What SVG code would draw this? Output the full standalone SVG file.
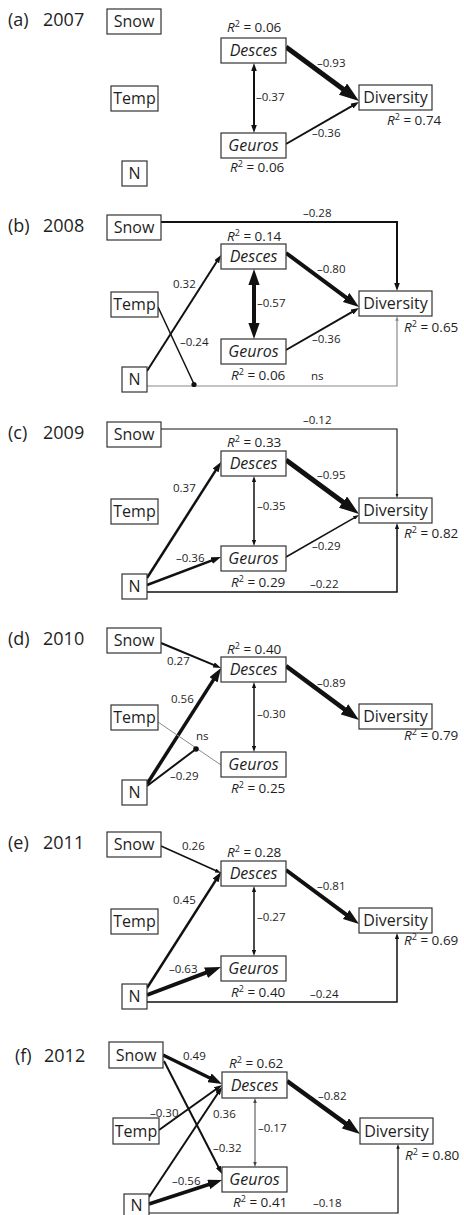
<svg xmlns="http://www.w3.org/2000/svg" width="464" height="1215" viewBox="0 0 464 1215">
<style>
text{font-family:'Open Sans','Liberation Sans',sans-serif;fill:#1e1e1e}
.box{fill:#fff;stroke:#333;stroke-width:1.2}
.nl{font-size:16px;text-anchor:middle}
.it{font-style:italic}
.yr{font-size:18px}
.c{font-size:11.5px}
.r2{font-size:13.5px}
.e{fill:none;stroke:#111;stroke-linejoin:miter}
.g{stroke:#8a8a8a}
</style>
<defs>
<marker id="ahk" viewBox="0 0 10 7" refX="4" refY="3.5" markerWidth="4" markerHeight="2.8" markerUnits="strokeWidth" orient="auto-start-reverse"><path d="M0,0 L10,3.5 L0,7 z" fill="#111"/></marker>
<marker id="ahg" viewBox="0 0 10 7" refX="4" refY="3.5" markerWidth="4" markerHeight="2.8" markerUnits="strokeWidth" orient="auto-start-reverse"><path d="M0,0 L10,3.5 L0,7 z" fill="#8a8a8a"/></marker>
<marker id="ahd" viewBox="0 0 10 7" refX="4" refY="3.5" markerWidth="5" markerHeight="3.5" markerUnits="strokeWidth" orient="auto-start-reverse"><path d="M0,0 L10,3.5 L0,7 z" fill="#444"/></marker>
</defs>

<!-- Panel (a) 2007 -->
<g id="panel-a" transform="translate(0,9)">
<text class="yr" x="8" y="17">(a)</text><text class="yr" x="43" y="17">2007</text>
<g id="connectors-a">
<path class="e" style="marker-end:url(#ahk)" stroke-width="5" d="M286,38 L349.35,84.86"/>
<path class="e" style="marker-end:url(#ahk)" stroke-width="2" d="M286,135 L354.84,95.4"/>
<path class="e" style="marker-start:url(#ahk);marker-end:url(#ahk)" stroke-width="2" d="M254,58.8 V119.2"/>
<text class="c" x="317" y="58">–0.93</text>
<text class="c" x="256" y="92">–0.37</text>
<text class="c" x="312" y="128">–0.36</text>
<text class="r2" x="227" y="23"><tspan class="it">R</tspan><tspan dy="-5" font-size="9">2</tspan><tspan dy="5"> = 0.06</tspan></text>
<text class="r2" x="387" y="116"><tspan class="it">R</tspan><tspan dy="-5" font-size="9">2</tspan><tspan dy="5"> = 0.74</tspan></text>
<text class="r2" x="230" y="163"><tspan class="it">R</tspan><tspan dy="-5" font-size="9">2</tspan><tspan dy="5"> = 0.06</tspan></text>
</g>
<g id="a-snow"><rect class="box" x="107" y="0" width="54" height="25"/><text class="nl" x="134" y="18">Snow</text></g>
<g id="a-desces"><rect class="box" x="221" y="29" width="65" height="25"/><text class="nl it" x="253.5" y="47">Desces</text></g>
<g id="a-temp"><rect class="box" x="111" y="77" width="47" height="25"/><text class="nl" x="134.5" y="95">Temp</text></g>
<g id="a-diversity"><rect class="box" x="359" y="76" width="73" height="25"/><text class="nl" x="395.5" y="94">Diversity</text></g>
<g id="a-geuros"><rect class="box" x="221" y="124" width="65" height="25"/><text class="nl it" x="253.5" y="142">Geuros</text></g>
<g id="a-n"><rect class="box" x="122" y="152" width="25" height="25"/><text class="nl" x="134.5" y="170">N</text></g>
</g>

<!-- Panel (b) 2008 -->
<g id="panel-b" transform="translate(0,215)">
<text class="yr" x="8" y="17">(b)</text><text class="yr" x="43" y="17">2008</text>
<g id="connectors-b">
<path class="e" style="marker-end:url(#ahk)" stroke-width="2" d="M161,7 H397 V71.2"/>
<path class="e g" style="marker-end:url(#ahg)" stroke-width="1.2" d="M147,171 H397 V103.9"/>
<path class="e" style="marker-end:url(#ahk)" stroke-width="4" d="M286,38 L351.28,86.29"/>
<path class="e" style="marker-end:url(#ahk)" stroke-width="2" d="M286,135 L354.84,95.4"/>
<path class="e" style="marker-start:url(#ahk);marker-end:url(#ahk)" stroke-width="4" d="M254,63.6 V114.4"/>
<path class="e" style="marker-end:url(#ahk)" stroke-width="2" d="M147,156 L218.42,44.05"/>
<path class="e" stroke-width="1.5" d="M158,92 L194,169"/>
<circle cx="194" cy="169.5" r="2.6" fill="#111"/>
<text class="c" x="303" y="2">–0.28</text>
<text class="c" x="317" y="58">–0.80</text>
<text class="c" x="173" y="73">0.32</text>
<text class="c" x="257" y="92">–0.57</text>
<text class="c" x="312" y="128">–0.36</text>
<text class="c" x="180" y="131">–0.24</text>
<text class="c" x="311" y="165">ns</text>
<text class="r2" x="227" y="26"><tspan class="it">R</tspan><tspan dy="-5" font-size="9">2</tspan><tspan dy="5"> = 0.14</tspan></text>
<text class="r2" x="404" y="117"><tspan class="it">R</tspan><tspan dy="-5" font-size="9">2</tspan><tspan dy="5"> = 0.65</tspan></text>
<text class="r2" x="231" y="165"><tspan class="it">R</tspan><tspan dy="-5" font-size="9">2</tspan><tspan dy="5"> = 0.06</tspan></text>
</g>
<g id="b-snow"><rect class="box" x="107" y="0" width="54" height="25"/><text class="nl" x="134" y="18">Snow</text></g>
<g id="b-desces"><rect class="box" x="221" y="29" width="65" height="25"/><text class="nl it" x="253.5" y="47">Desces</text></g>
<g id="b-temp"><rect class="box" x="111" y="77" width="47" height="25"/><text class="nl" x="134.5" y="95">Temp</text></g>
<g id="b-diversity"><rect class="box" x="359" y="76" width="73" height="25"/><text class="nl" x="395.5" y="94">Diversity</text></g>
<g id="b-geuros"><rect class="box" x="221" y="124" width="65" height="25"/><text class="nl it" x="253.5" y="142">Geuros</text></g>
<g id="b-n"><rect class="box" x="122" y="152" width="25" height="25"/><text class="nl" x="134.5" y="170">N</text></g>
</g>

<!-- Panel (c) 2009 -->
<g id="panel-c" transform="translate(0,422)">
<text class="yr" x="8" y="17">(c)</text><text class="yr" x="43" y="17">2009</text>
<g id="connectors-c">
<path class="e" style="marker-end:url(#ahk)" stroke-width="1.1" d="M161,7 H397 V73.4"/>
<path class="e" style="marker-end:url(#ahk)" stroke-width="1.5" d="M147,170 H397 V104.6"/>
<path class="e" style="marker-end:url(#ahk)" stroke-width="5" d="M286,38 L349.35,84.86"/>
<path class="e" style="marker-end:url(#ahk)" stroke-width="1.5" d="M286,135 L355.88,94.8"/>
<path class="e" style="marker-start:url(#ahk);marker-end:url(#ahk)" stroke-width="1.5" d="M254,57.6 V120.4"/>
<path class="e" style="marker-end:url(#ahk)" stroke-width="2.5" d="M147,156 L217.77,45.06"/>
<path class="e" style="marker-end:url(#ahk)" stroke-width="2.5" d="M147,163 L215.39,137.12"/>
<text class="c" x="303" y="2">–0.12</text>
<text class="c" x="317" y="57">–0.95</text>
<text class="c" x="173" y="70">0.37</text>
<text class="c" x="257" y="88">–0.35</text>
<text class="c" x="312" y="128">–0.29</text>
<text class="c" x="176" y="140">–0.36</text>
<text class="c" x="310" y="166">–0.22</text>
<text class="r2" x="227" y="25"><tspan class="it">R</tspan><tspan dy="-5" font-size="9">2</tspan><tspan dy="5"> = 0.33</tspan></text>
<text class="r2" x="404" y="116"><tspan class="it">R</tspan><tspan dy="-5" font-size="9">2</tspan><tspan dy="5"> = 0.82</tspan></text>
<text class="r2" x="231" y="165"><tspan class="it">R</tspan><tspan dy="-5" font-size="9">2</tspan><tspan dy="5"> = 0.29</tspan></text>
</g>
<g id="c-snow"><rect class="box" x="107" y="0" width="54" height="25"/><text class="nl" x="134" y="18">Snow</text></g>
<g id="c-desces"><rect class="box" x="221" y="29" width="65" height="25"/><text class="nl it" x="253.5" y="47">Desces</text></g>
<g id="c-temp"><rect class="box" x="111" y="77" width="47" height="25"/><text class="nl" x="134.5" y="95">Temp</text></g>
<g id="c-diversity"><rect class="box" x="359" y="76" width="73" height="25"/><text class="nl" x="395.5" y="94">Diversity</text></g>
<g id="c-geuros"><rect class="box" x="221" y="124" width="65" height="25"/><text class="nl it" x="253.5" y="142">Geuros</text></g>
<g id="c-n"><rect class="box" x="122" y="152" width="25" height="25"/><text class="nl" x="134.5" y="170">N</text></g>
</g>

<!-- Panel (d) 2010 -->
<g id="panel-d" transform="translate(0,628)">
<text class="yr" x="8" y="17">(d)</text><text class="yr" x="43" y="17">2010</text>
<g id="connectors-d">
<path class="e" style="marker-end:url(#ahk)" stroke-width="2" d="M161,15 L216.57,38.15"/>
<path class="e" style="marker-end:url(#ahk)" stroke-width="4.5" d="M286,38 L350.32,85.57"/>
<path class="e" style="marker-start:url(#ahk);marker-end:url(#ahk)" stroke-width="1.5" d="M254,57.6 V120.4"/>
<path class="e" style="marker-end:url(#ahk)" stroke-width="3.5" d="M147,156 L216.48,47.08"/>
<path class="e g" stroke-width="1" d="M158,94 L221,137"/>
<path class="e" stroke-width="2" d="M147,158 L196,121"/>
<circle cx="196" cy="121" r="2.8" fill="#111"/>
<text class="c" x="167" y="37">0.27</text>
<text class="c" x="317" y="59">–0.89</text>
<text class="c" x="171" y="75">0.56</text>
<text class="c" x="257" y="90">–0.30</text>
<text class="c" x="196" y="112">ns</text>
<text class="c" x="170" y="152">–0.29</text>
<text class="r2" x="227" y="26"><tspan class="it">R</tspan><tspan dy="-5" font-size="9">2</tspan><tspan dy="5"> = 0.40</tspan></text>
<text class="r2" x="404" y="112"><tspan class="it">R</tspan><tspan dy="-5" font-size="9">2</tspan><tspan dy="5"> = 0.79</tspan></text>
<text class="r2" x="231" y="165"><tspan class="it">R</tspan><tspan dy="-5" font-size="9">2</tspan><tspan dy="5"> = 0.25</tspan></text>
</g>
<g id="d-snow"><rect class="box" x="107" y="0" width="54" height="25"/><text class="nl" x="134" y="18">Snow</text></g>
<g id="d-desces"><rect class="box" x="221" y="29" width="65" height="25"/><text class="nl it" x="253.5" y="47">Desces</text></g>
<g id="d-temp"><rect class="box" x="111" y="77" width="47" height="25"/><text class="nl" x="134.5" y="95">Temp</text></g>
<g id="d-diversity"><rect class="box" x="359" y="76" width="73" height="25"/><text class="nl" x="395.5" y="94">Diversity</text></g>
<g id="d-geuros"><rect class="box" x="221" y="124" width="65" height="25"/><text class="nl it" x="253.5" y="142">Geuros</text></g>
<g id="d-n"><rect class="box" x="122" y="152" width="25" height="25"/><text class="nl" x="134.5" y="170">N</text></g>
</g>

<!-- Panel (e) 2011 -->
<g id="panel-e" transform="translate(0,832)">
<text class="yr" x="8" y="17">(e)</text><text class="yr" x="43" y="17">2011</text>
<g id="connectors-e">
<path class="e" style="marker-end:url(#ahk)" stroke-width="1.5" d="M161,14 L217.72,39.52"/>
<path class="e" style="marker-end:url(#ahk)" stroke-width="1.5" d="M147,170 H397 V104.6"/>
<path class="e" style="marker-end:url(#ahk)" stroke-width="4" d="M286,38 L351.28,86.29"/>
<path class="e" style="marker-start:url(#ahk);marker-end:url(#ahk)" stroke-width="1.5" d="M254,57.6 V120.4"/>
<path class="e" style="marker-end:url(#ahk)" stroke-width="2.5" d="M147,156 L217.77,45.06"/>
<path class="e" style="marker-end:url(#ahk)" stroke-width="4" d="M147,163 L212.02,138.4"/>
<text class="c" x="182" y="18">0.26</text>
<text class="c" x="317" y="58">–0.81</text>
<text class="c" x="173" y="72">0.45</text>
<text class="c" x="257" y="89">–0.27</text>
<text class="c" x="169" y="141">–0.63</text>
<text class="c" x="310" y="166">–0.24</text>
<text class="r2" x="227" y="25"><tspan class="it">R</tspan><tspan dy="-5" font-size="9">2</tspan><tspan dy="5"> = 0.28</tspan></text>
<text class="r2" x="404" y="113"><tspan class="it">R</tspan><tspan dy="-5" font-size="9">2</tspan><tspan dy="5"> = 0.69</tspan></text>
<text class="r2" x="231" y="165"><tspan class="it">R</tspan><tspan dy="-5" font-size="9">2</tspan><tspan dy="5"> = 0.40</tspan></text>
</g>
<g id="e-snow"><rect class="box" x="107" y="0" width="54" height="25"/><text class="nl" x="134" y="18">Snow</text></g>
<g id="e-desces"><rect class="box" x="221" y="29" width="65" height="25"/><text class="nl it" x="253.5" y="47">Desces</text></g>
<g id="e-temp"><rect class="box" x="111" y="77" width="47" height="25"/><text class="nl" x="134.5" y="95">Temp</text></g>
<g id="e-diversity"><rect class="box" x="359" y="76" width="73" height="25"/><text class="nl" x="395.5" y="94">Diversity</text></g>
<g id="e-geuros"><rect class="box" x="221" y="124" width="65" height="25"/><text class="nl it" x="253.5" y="142">Geuros</text></g>
<g id="e-n"><rect class="box" x="122" y="152" width="25" height="25"/><text class="nl" x="134.5" y="170">N</text></g>
</g>

<!-- Panel (f) 2012 -->
<g id="panel-f" transform="translate(0,1042)">
<text class="yr" x="15" y="20">(f)</text><text class="yr" x="44" y="20">2012</text>
<g id="connectors-f">
<path class="e" style="marker-end:url(#ahk)" stroke-width="3.5" d="M163,13 L214.46,38.3"/>
<path class="e" style="marker-end:url(#ahk)" stroke-width="2" d="M164,19 L219.81,127.73"/>
<path class="e" style="marker-end:url(#ahk)" stroke-width="2" d="M159,88 L218.09,45.79"/>
<path class="e" style="marker-end:url(#ahk)" stroke-width="2" d="M149,155 L219.38,49.02"/>
<path class="e" style="marker-end:url(#ahk)" stroke-width="3.5" d="M149,162 L214.05,140.72"/>
<path class="e" style="marker-end:url(#ahk)" stroke-width="1.2" d="M149,171 H398 V104.9"/>
<path class="e" style="marker-end:url(#ahk)" stroke-width="4.5" d="M287,39 L351.26,85.65"/>
<path class="e" style="marker-start:url(#ahd);marker-end:url(#ahd);stroke:#444" stroke-width="1" d="M255,59 V122"/>
<text class="c" x="183" y="18">0.49</text>
<text class="c" x="318" y="58">–0.82</text>
<text class="c" x="150" y="75">–0.30</text>
<text class="c" x="213" y="76">0.36</text>
<text class="c" x="258" y="90">–0.17</text>
<text class="c" x="213" y="110">–0.32</text>
<text class="c" x="172" y="143">–0.56</text>
<text class="c" x="313" y="165">–0.18</text>
<text class="r2" x="229" y="26"><tspan class="it">R</tspan><tspan dy="-5" font-size="9">2</tspan><tspan dy="5"> = 0.62</tspan></text>
<text class="r2" x="405" y="118"><tspan class="it">R</tspan><tspan dy="-5" font-size="9">2</tspan><tspan dy="5"> = 0.80</tspan></text>
<text class="r2" x="233" y="165"><tspan class="it">R</tspan><tspan dy="-5" font-size="9">2</tspan><tspan dy="5"> = 0.41</tspan></text>
</g>
<g id="f-snow"><rect class="box" x="109" y="0" width="54" height="26"/><text class="nl" x="136" y="18.5">Snow</text></g>
<g id="f-desces"><rect class="box" x="222" y="30" width="65" height="26"/><text class="nl it" x="254.5" y="48.5">Desces</text></g>
<g id="f-temp"><rect class="box" x="113" y="76" width="46" height="26"/><text class="nl" x="136" y="94.5">Temp</text></g>
<g id="f-diversity"><rect class="box" x="360" y="76" width="73" height="26"/><text class="nl" x="396.5" y="94.5">Diversity</text></g>
<g id="f-geuros"><rect class="box" x="222" y="125" width="65" height="25"/><text class="nl it" x="254.5" y="143">Geuros</text></g>
<g id="f-n"><rect class="box" x="124" y="152" width="25" height="25"/><text class="nl" x="136.5" y="169">N</text></g>
</g>
</svg>
